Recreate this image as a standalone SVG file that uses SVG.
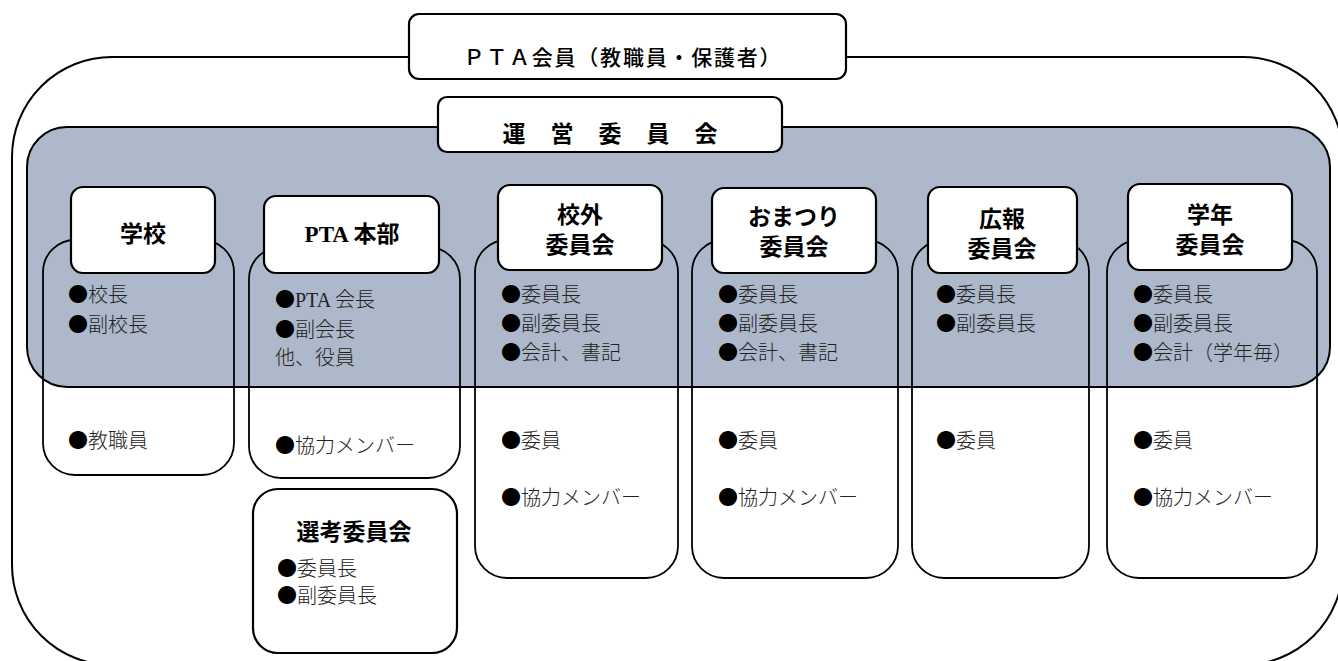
<svg xmlns="http://www.w3.org/2000/svg" width="1338" height="661" viewBox="0 0 1338 661">
<style>
.ln{stroke:#000;stroke-width:2;}
.hdr{fill:#fff;stroke:#000;stroke-width:2.2;}
.body{fill:none;stroke:#000;stroke-width:1.8;}
.tt{font-family:"Liberation Serif","Noto Sans CJK JP",serif;font-weight:bold;font-size:23px;fill:#000;text-anchor:middle;}
.it{font-family:"Liberation Serif","Noto Sans CJK JP",serif;font-weight:300;font-size:20px;fill:#222;}
.b{font-family:"Noto Sans CJK JP",sans-serif;fill:#000;font-weight:normal;}
</style>
<rect width="1338" height="661" fill="#fff"/>
<g id="pta-members">
<rect class="ln" x="12" y="57" width="1331" height="608" rx="100" fill="#fff"/>
<rect class="hdr" x="409" y="14" width="437" height="65" rx="10"/>
<text class="tt" x="622" y="65" textLength="317" style="font-size:21px;font-weight:500">ＰＴＡ会員（教職員・保護者）</text>
</g>
<g id="steering">
<rect class="ln" x="27" y="127" width="1303" height="260" rx="40" fill="#adb9ca"/>
<rect class="hdr" x="438" y="97" width="344" height="55" rx="9"/>
<text class="tt" x="610" y="142" textLength="215">運　営　委　員　会</text>
</g>
<g id="school">
<rect class="body" x="43" y="240" width="191" height="235" rx="32"/>
<rect class="hdr" x="71" y="187" width="144" height="86" rx="12"/>
<text class="tt" x="143" y="242">学校</text>
<text class="it" x="68" y="302"><tspan class="b">●</tspan>校長</text>
<text class="it" x="68" y="332"><tspan class="b">●</tspan>副校長</text>
<text class="it" x="68" y="448"><tspan class="b">●</tspan>教職員</text>
</g>
<g id="pta-hq">
<rect class="body" x="249" y="247" width="211" height="231" rx="32"/>
<rect class="hdr" x="264" y="196" width="175" height="77" rx="12"/>
<text class="tt" x="352" y="242">PTA 本部</text>
<text class="it" x="275" y="307"><tspan class="b">●</tspan>PTA 会長</text>
<text class="it" x="275" y="337"><tspan class="b">●</tspan>副会長</text>
<text class="it" x="275" y="365">他、役員</text>
<text class="it" x="275" y="453"><tspan class="b">●</tspan>協力メンバー</text>
</g>
<g id="kougai">
<rect class="body" x="475" y="240" width="203" height="338" rx="32"/>
<rect class="hdr" x="498" y="185" width="164" height="85" rx="12"/>
<text class="tt" x="580" y="223">校外</text>
<text class="tt" x="580" y="253">委員会</text>
<text class="it" x="501" y="302"><tspan class="b">●</tspan>委員長</text>
<text class="it" x="501" y="331"><tspan class="b">●</tspan>副委員長</text>
<text class="it" x="501" y="360"><tspan class="b">●</tspan>会計、書記</text>
<text class="it" x="501" y="448"><tspan class="b">●</tspan>委員</text>
<text class="it" x="501" y="505"><tspan class="b">●</tspan>協力メンバー</text>
</g>
<g id="omatsuri">
<rect class="body" x="692" y="240" width="206" height="338" rx="32"/>
<rect class="hdr" x="712" y="188" width="164" height="85" rx="12"/>
<text class="tt" x="794" y="225">おまつり</text>
<text class="tt" x="794" y="255">委員会</text>
<text class="it" x="718" y="302"><tspan class="b">●</tspan>委員長</text>
<text class="it" x="718" y="331"><tspan class="b">●</tspan>副委員長</text>
<text class="it" x="718" y="360"><tspan class="b">●</tspan>会計、書記</text>
<text class="it" x="718" y="448"><tspan class="b">●</tspan>委員</text>
<text class="it" x="718" y="505"><tspan class="b">●</tspan>協力メンバー</text>
</g>
<g id="kouhou">
<rect class="body" x="912" y="240" width="177" height="338" rx="32"/>
<rect class="hdr" x="928" y="187" width="149" height="86" rx="12"/>
<text class="tt" x="1002" y="227">広報</text>
<text class="tt" x="1002" y="257">委員会</text>
<text class="it" x="936" y="302"><tspan class="b">●</tspan>委員長</text>
<text class="it" x="936" y="331"><tspan class="b">●</tspan>副委員長</text>
<text class="it" x="936" y="448"><tspan class="b">●</tspan>委員</text>
</g>
<g id="gakunen">
<rect class="body" x="1107" y="240" width="210" height="338" rx="32"/>
<rect class="hdr" x="1128" y="184" width="164" height="86" rx="12"/>
<text class="tt" x="1210" y="223">学年</text>
<text class="tt" x="1210" y="253">委員会</text>
<text class="it" x="1133" y="302"><tspan class="b">●</tspan>委員長</text>
<text class="it" x="1133" y="331"><tspan class="b">●</tspan>副委員長</text>
<text class="it" x="1133" y="360"><tspan class="b">●</tspan>会計（学年毎）</text>
<text class="it" x="1133" y="448"><tspan class="b">●</tspan>委員</text>
<text class="it" x="1133" y="505"><tspan class="b">●</tspan>協力メンバー</text>
</g>
<g id="senkou">
<rect class="hdr" x="253" y="489" width="204" height="164" rx="25"/>
<text class="tt" x="354" y="540">選考委員会</text>
<text class="it" x="277" y="576"><tspan class="b">●</tspan>委員長</text>
<text class="it" x="277" y="603"><tspan class="b">●</tspan>副委員長</text>
</g>
<g id="connectors"></g>
</svg>
